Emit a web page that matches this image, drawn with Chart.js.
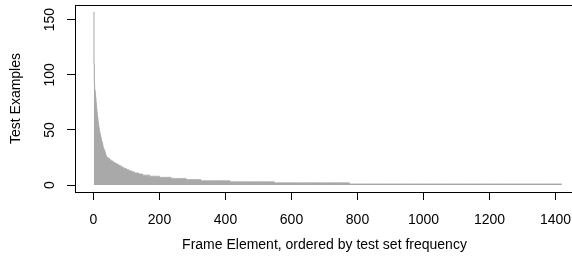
<!DOCTYPE html>
<html>
<head>
<meta charset="utf-8">
<script src="https://cdn.jsdelivr.net/npm/chart.js@4"></script>
<style>
  html, body { margin: 0; padding: 0; background: #fff; overflow: hidden; }
  #wrap { width: 600px; height: 266px; }
</style>
</head>
<body>
<div id="wrap"><canvas id="freqChart" width="600" height="266"></canvas></div>
<script>
// Test examples per frame element, sorted from most to least frequent.
// The first 40 elements are listed one by one, the long tail as runs of equal counts.
const headValues = [157, 110, 92, 87, 85, 82, 79, 75, 72, 69, 66, 63, 61, 58, 56, 54, 52, 50, 48, 47,
                    45, 44, 43, 41, 40, 39, 38, 37, 35, 34, 33, 32, 32, 31, 30, 29, 28, 27, 26, 26];
const tailLevels     = [25, 24, 23, 22, 21, 20, 19, 18, 17, 16, 15, 14, 13, 12, 11, 10, 9, 8, 7, 6, 5, 4, 3, 2, 1];
const tailRunLengths = [4, 4, 4, 5, 5, 6, 6, 6, 6, 6, 7, 7, 8, 9, 13, 13, 20, 30, 35, 46, 45, 88, 134, 228, 644];

const xTicks = [0, 200, 400, 600, 800, 1000, 1200, 1400];
const yTicks = [0, 50, 100, 150];

const xTitle = "Frame Element, ordered by test set frequency";
const yTitle = "Test Examples";

// unroll the runs into one value per element (rank 1, 2, 3, ...)
const counts = headValues.slice();
tailLevels.forEach((lvl, i) => {
  for (let k = 0; k < tailRunLengths[i]; k++) counts.push(lvl);
});
const points = counts.map((v, i) => ({ x: i + 1, y: v }));

const FONT = '14px "Liberation Sans", Arial, Helvetica, sans-serif';
const GREY = "#a9a9a9";

// box around the plot, rotated y labels and the two axis titles (R style)
const rFrame = {
  id: "rFrame",
  afterDraw(chart) {
    const { ctx, chartArea: a, scales } = chart;
    ctx.save();
    ctx.strokeStyle = "#000";
    ctx.lineWidth = 1;
    ctx.strokeRect(a.left + 0.5, a.top + 0.5, a.right - a.left, a.bottom - a.top);

    ctx.fillStyle = "#000";
    ctx.font = FONT;
    ctx.textAlign = "center";
    ctx.textBaseline = "middle";

    // y tick labels, turned to read bottom-to-top
    yTicks.forEach(v => {
      ctx.save();
      ctx.translate(50, scales.y.getPixelForValue(v));
      ctx.rotate(-Math.PI / 2);
      ctx.fillText(String(v), 0, 0);
      ctx.restore();
    });

    // y title
    ctx.save();
    ctx.translate(16, (a.top + a.bottom) / 2);
    ctx.rotate(-Math.PI / 2);
    ctx.fillText(yTitle, 0, 0);
    ctx.restore();

    // x title
    ctx.fillText(xTitle, (a.left + a.right) / 2, 245);
    ctx.restore();
  }
};

new Chart(document.getElementById("freqChart"), {
  type: "line",
  data: {
    datasets: [{
      data: points,
      fill: "origin",
      backgroundColor: GREY,
      borderColor: GREY,
      borderWidth: 1,
      pointRadius: 0,
      stepped: "middle",
      tension: 0
    }]
  },
  options: {
    responsive: false,
    animation: false,
    events: [],
    layout: { padding: { top: 5, right: 26, bottom: 0, left: 0 } },
    plugins: { legend: { display: false }, tooltip: { enabled: false } },
    scales: {
      x: {
        type: "linear",
        min: -56,
        max: 1456,
        afterFit: s => { s.height = 74; },
        afterBuildTicks: s => { s.ticks = xTicks.map(v => ({ value: v })); },
        border: { display: false },
        grid: { drawOnChartArea: false, drawTicks: true, tickLength: 8, color: "#000" },
        ticks: {
          color: "#000",
          font: { family: '"Liberation Sans", Arial, Helvetica, sans-serif', size: 14 },
          padding: 12,
          maxRotation: 0,
          autoSkip: false,
          callback: v => String(v)
        }
      },
      y: {
        type: "linear",
        min: -6.3,
        max: 163.3,
        afterFit: s => { s.width = 75; },
        afterBuildTicks: s => { s.ticks = yTicks.map(v => ({ value: v })); },
        border: { display: false },
        grid: { drawOnChartArea: false, drawTicks: true, tickLength: 8, color: "#000" },
        ticks: { display: false }
      }
    }
  },
  plugins: [rFrame]
});
</script>
</body>
</html>
